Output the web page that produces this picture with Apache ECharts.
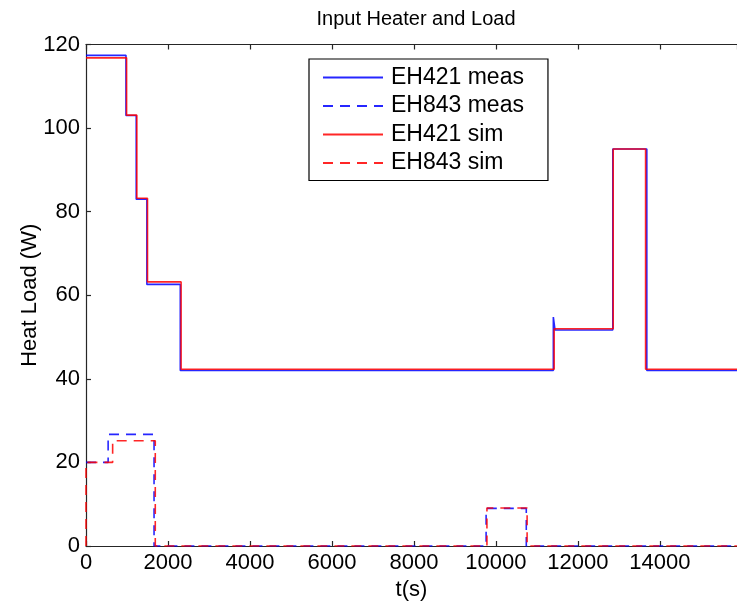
<!DOCTYPE html>
<html>
<head>
<meta charset="utf-8">
<script src="https://cdn.jsdelivr.net/npm/echarts@6/dist/echarts.min.js"></script>
<style>html,body{margin:0;padding:0;background:#fff}#c{width:737px;height:602px}</style>
</head>
<body>
<div id="c"></div>
<script>
// Step-function breakpoints (time in s, value in W); each value holds until the next time
const eh421MeasT = [0, 975, 1225, 1485, 2300, 11400, 11440, 12850, 13680, 15880];
const eh421MeasV = [117.4, 103, 83, 62.6, 42, 54.8, 51.7, 95, 42, 42];
const eh843MeasT = [0, 540, 1660, 9760, 10740, 15880];
const eh843MeasV = [20, 26.7, 0, 9, 0, 0];
const eh421SimT = [0, 990, 1240, 1500, 2320, 11420, 12860, 13650, 15880];
const eh421SimV = [116.8, 103.1, 83.2, 63.2, 42.3, 52.0, 95.0, 42.3, 42.3];
const eh843SimT = [0, 0, 650, 1690, 9780, 10760, 15880];
const eh843SimV = [0, 20, 25.2, 0, 9.1, 0, 0];
const xTicks = [0, 2000, 4000, 6000, 8000, 10000, 12000, 14000];
const yTicks = [0, 20, 40, 60, 80, 100, 120];
const seriesNames = ['EH421 meas', 'EH843 meas', 'EH421 sim', 'EH843 sim'];

function pairs(t, v) { return t.map((x, i) => [x, v[i]]); }

const FONT = 'Liberation Sans, Arial, sans-serif';
const chart = echarts.init(document.getElementById('c'), null, {renderer: 'canvas'});
const axisCommon = {
  axisLine: {show: true, lineStyle: {color: '#262626', width: 1.2}},
  axisTick: {show: true, inside: true, length: 5, lineStyle: {color: '#262626', width: 1.2}},
  splitLine: {show: false}
};
function mkSeries(name, t, v, color, dashed, z) {
  return {
    name: name, type: 'line', step: 'end', data: pairs(t, v), showSymbol: false, symbol: 'none',
    lineStyle: {color: color, width: 1.6, type: dashed ? [10, 7] : 'solid', opacity: 0.85},
    itemStyle: {color: color}, z: z, animation: false
  };
}
chart.setOption({
  animation: false,
  backgroundColor: '#fff',
  title: {
    text: 'Input Heater and Load', left: 411, textAlign: 'center', top: 4,
    textStyle: {fontFamily: FONT, fontSize: 20, fontWeight: 'normal', color: '#000'}
  },
  grid: {left: 86, right: 0, top: 44.5, bottom: 56, containLabel: false, outerBoundsMode: 'none'},
  legend: {
    orient: 'vertical', left: 309, top: 59,
    data: seriesNames,
    itemWidth: 60, itemHeight: 22, itemGap: 5.5,
    padding: [7, 24, 6, 13],
    itemStyle: {opacity: 0},
    borderColor: '#000', borderWidth: 1.2, backgroundColor: '#fff',
    textStyle: {fontFamily: FONT, fontSize: 23, color: '#000', padding: [0, 0, 0, 3]},
    selectedMode: false
  },
  xAxis: [
    Object.assign({
      type: 'value', min: 0, max: 15880, interval: 2000, position: 'bottom',
      name: 't(s)', nameLocation: 'middle', nameGap: 30,
      nameTextStyle: {fontFamily: FONT, fontSize: 22, color: '#000'},
      axisLabel: {
        fontFamily: FONT, fontSize: 22, color: '#000', margin: 6, showMaxLabel: false,
        formatter: v => (xTicks.indexOf(v) >= 0 ? String(v) : '')
      }
    }, axisCommon),
    Object.assign({
      type: 'value', min: 0, max: 15880, interval: 2000, position: 'top',
      axisLabel: {show: false}
    }, axisCommon)
  ],
  yAxis: [
    Object.assign({
      type: 'value', min: 0, max: 120, interval: 20, position: 'left',
      name: 'Heat Load (W)', nameLocation: 'middle', nameGap: 45, nameRotate: 90,
      nameMoveOverlap: false,
      nameTextStyle: {fontFamily: FONT, fontSize: 22, color: '#000'},
      axisLabel: {
        fontFamily: FONT, fontSize: 22, color: '#000', margin: 6,
        formatter: v => (yTicks.indexOf(v) >= 0 ? String(v) : '')
      }
    }, axisCommon)
  ],
  series: [
    mkSeries(seriesNames[0], eh421MeasT, eh421MeasV, '#0000ff', false, 2),
    mkSeries(seriesNames[1], eh843MeasT, eh843MeasV, '#0000ff', true, 2),
    mkSeries(seriesNames[2], eh421SimT, eh421SimV, '#ff0000', false, 3),
    mkSeries(seriesNames[3], eh843SimT, eh843SimV, '#ff0000', true, 3)
  ]
});
</script>
</body>
</html>
